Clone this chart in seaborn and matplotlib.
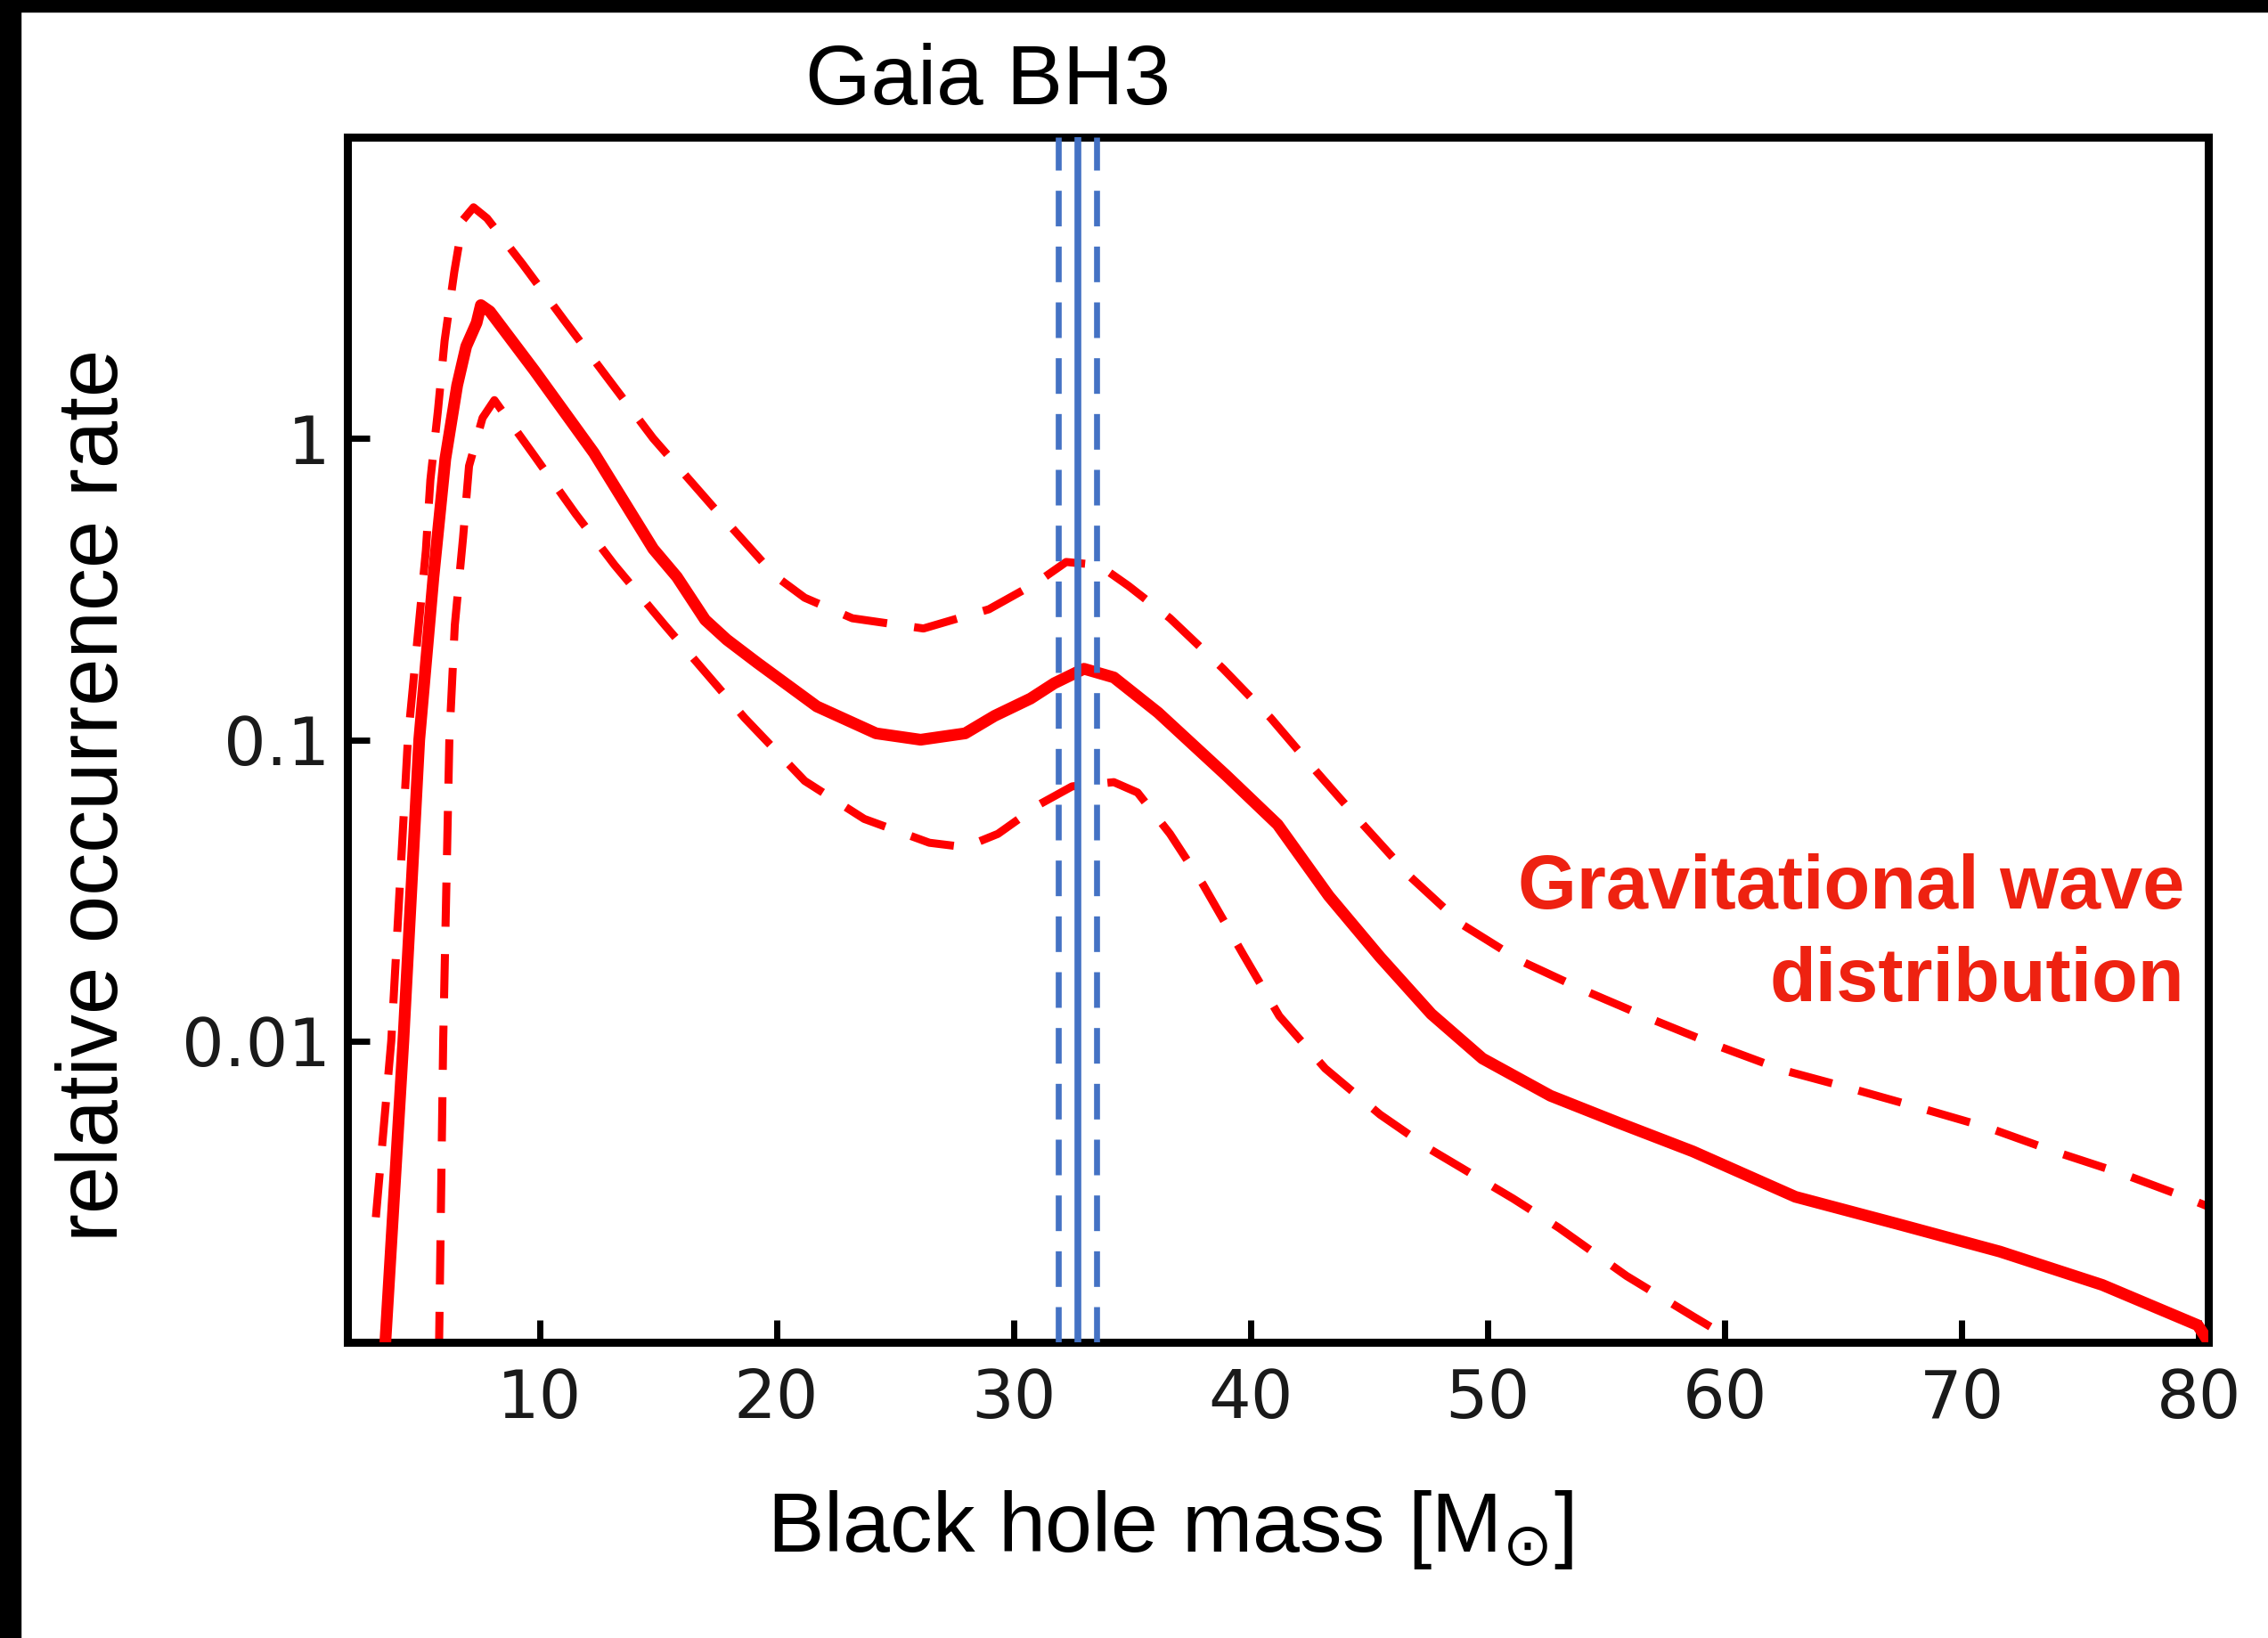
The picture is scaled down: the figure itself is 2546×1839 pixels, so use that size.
import matplotlib
matplotlib.use("Agg")
import matplotlib.pyplot as plt
import seaborn as sns
from matplotlib.patches import Rectangle
from matplotlib.ticker import NullLocator

# Gravitational-wave black hole mass distribution: median and 90% band
mass_median = [3.35, 3.5, 4.26, 4.93, 5.53, 6.03, 6.53, 6.91, 7.35, 7.53, 7.91, 9.79,
               12.3, 14.8, 15.8, 16.99, 17.9, 19.19, 21.7, 24.2, 26.08, 27.96, 29.2,
               30.72, 31.72, 32.97, 34.23, 36.1, 38.98, 41.14, 43.3, 45.46, 47.62,
               49.78, 52.65, 55.53, 58.66, 62.98, 67.3, 71.61, 75.93, 79.95, 80.5]
rate_median = [0.0008, 0.001, 0.01, 0.1, 0.347, 0.855, 1.50, 2.02, 2.42, 2.77, 2.64,
               1.68, 0.895, 0.43, 0.347, 0.25, 0.215, 0.18, 0.129, 0.105, 0.100,
               0.105, 0.120, 0.137, 0.154, 0.172, 0.161, 0.123, 0.076, 0.0523, 0.0303,
               0.019, 0.0123, 0.00875, 0.00658, 0.00535, 0.0043, 0.00304, 0.00247,
               0.0020, 0.00155, 0.00114, 0.00098]

mass_upper = [3.1, 3.75, 4.45, 5.21, 5.40, 5.72, 6.0, 6.41, 6.78, 7.22, 7.79, 9.29,
              11.04, 12.92, 14.8, 17.3, 19.94, 21.19, 23.2, 26.2, 28.96, 30.97, 32.22,
              33.6, 34.85, 36.6, 38.84, 40.85, 42.8, 44.74, 46.75, 48.91, 51.36, 54.09,
              56.82, 59.53, 62.47, 65.35, 68.23, 71.1, 73.91, 76.72, 79.38, 80.5]
rate_upper = [0.0026, 0.01, 0.1, 0.425, 0.728, 1.24, 2.11, 3.58, 5.32, 5.85, 5.38,
              3.79, 2.47, 1.57, 1.0, 0.596, 0.35, 0.296, 0.253, 0.234, 0.271, 0.332,
              0.389, 0.38, 0.324, 0.253, 0.172, 0.118, 0.078, 0.0523, 0.035, 0.0244,
              0.0185, 0.0147, 0.0119, 0.00975, 0.0080, 0.00695, 0.0060, 0.00516,
              0.0043, 0.00364, 0.00304, 0.0028]

mass_lower = [5.76, 5.94, 6.2, 6.43, 6.78, 7.03, 7.6, 8.1, 9.79, 11.54, 13.17, 15.31,
              18.66, 21.19, 23.7, 26.45, 27.96, 29.34, 31.09, 32.47, 34.23, 35.23,
              36.6, 37.98, 39.7, 41.21, 43.15, 45.46, 47.62, 51.07, 53.0, 55.86,
              58.73, 59.87, 60.5]
rate_lower = [0.0009, 0.01, 0.1, 0.24, 0.47, 0.81, 1.17, 1.34, 0.875, 0.56, 0.38,
              0.239, 0.118, 0.073, 0.0546, 0.0455, 0.044, 0.0487, 0.061, 0.070,
              0.0723, 0.0668, 0.0487, 0.0332, 0.0193, 0.0121, 0.0081, 0.0057, 0.00435,
              0.0030, 0.0024, 0.00166, 0.00121, 0.00107, 0.00095]

# Gaia BH3 mass and its uncertainty
bh3_mass = 32.7
bh3_err = 0.82

x_ticks = [10, 20, 30, 40, 50, 60, 70, 80]
y_ticks = [0.01, 0.1, 1]
y_tick_labels = ["0.01", "0.1", "1"]

sns.set_theme(style="ticks")
plt.rcParams["font.family"] = ["Liberation Sans", "DejaVu Sans"]
plt.rcParams["mathtext.fontset"] = "dejavusans"

W, H = 2546, 1839
fig = plt.figure(figsize=(W / 100, H / 100), dpi=100)
fig.patch.set_facecolor("white")

# dark frame strips along the top and left edge
fig.patches.append(Rectangle((0, 1 - 13 / H), 1, 13 / H, transform=fig.transFigure,
                             color="black", zorder=10))
fig.patches.append(Rectangle((0, 0), 23 / W, 1, transform=fig.transFigure,
                             color="black", zorder=10))

ax = fig.add_axes([390 / W, 1 - 1507 / H, (2479 - 390) / W, (1507 - 154) / H])
ax.set_facecolor("white")

red = "#ff0000"
dash_kw = dict(color=red, lw=6.5, linestyle=(0, (5.5, 3.4)), estimator=None,
               zorder=2, solid_joinstyle="round", dash_joinstyle="round")
sns.lineplot(x=mass_upper, y=rate_upper, ax=ax, **dash_kw)
sns.lineplot(x=mass_lower, y=rate_lower, ax=ax, **dash_kw)
sns.lineplot(x=mass_median, y=rate_median, ax=ax, color=red, lw=9.5,
             estimator=None, zorder=3, solid_joinstyle="round")

blue = "#4472c4"
ax.axvline(bh3_mass, color=blue, lw=5.5, zorder=4)
for m in (bh3_mass - bh3_err, bh3_mass + bh3_err):
    ax.axvline(m, color=blue, lw=4.8, linestyle=(0, (6.0, 3.4)), zorder=4)

ax.set_yscale("log")
ax.set_xlim(1.9, 80.4)
ax.set_ylim(0.001, 10)
ax.set_xticks(x_ticks)
ax.set_xticklabels([str(t) for t in x_ticks])
ax.set_yticks(y_ticks)
ax.set_yticklabels(y_tick_labels)
ax.yaxis.set_minor_locator(NullLocator())
ax.xaxis.set_minor_locator(NullLocator())

ax.tick_params(axis="both", which="major", direction="in", length=18, width=5,
               color="black", labelcolor="#1a1a1a", labelsize=54)
ax.tick_params(axis="x", pad=20)
ax.tick_params(axis="y", pad=14)
for lbl in ax.get_xticklabels() + ax.get_yticklabels():
    lbl.set_fontfamily("DejaVu Sans")

for side in ("left", "right", "top", "bottom"):
    ax.spines[side].set_visible(True)
    ax.spines[side].set_color("black")
    ax.spines[side].set_linewidth(6.5)

ax.set_ylabel("relative occurrence rate", fontsize=69, color="black")
ax.yaxis.set_label_coords(-0.114, 0.454)
ax.set_xlabel("Black hole mass [M$_{\\odot}$]", fontsize=68.5, color="black")
ax.xaxis.set_label_coords(0.442, -0.121)

ax.set_title("Gaia BH3", fontsize=68, color="black", x=0.344, y=1.0273, pad=0,
             va="baseline")

gw_color = "#ee2211"
ax.text(0.987, 0.36, "Gravitational wave", transform=ax.transAxes, ha="right",
        va="baseline", fontsize=61, fontweight="bold", color=gw_color)
ax.text(0.987, 0.283, "distribution", transform=ax.transAxes, ha="right",
        va="baseline", fontsize=61, fontweight="bold", color=gw_color)

fig.savefig("out.png", dpi=100)
